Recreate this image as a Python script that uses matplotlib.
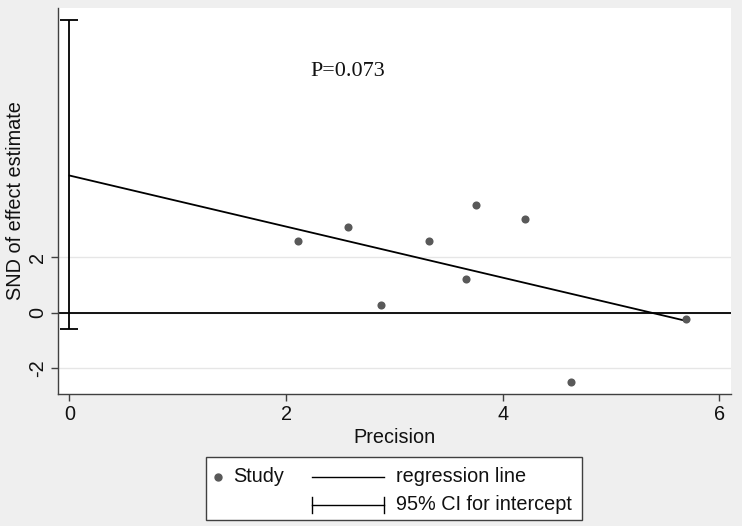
import matplotlib
matplotlib.use("Agg")
import matplotlib.pyplot as plt
from matplotlib.lines import Line2D
from matplotlib.patches import Rectangle
import numpy as np

# ---- data ----
precision = [2.11, 2.57, 2.876, 3.32, 3.66, 3.75, 4.21, 4.63, 5.69]
snd = [2.60, 3.10, 0.29, 2.58, 1.23, 3.90, 3.38, -2.50, -0.22]
intercept = 4.95
slope = -0.922
ci_low, ci_high = -0.60, 10.56
p_text = "P=0.073"
xticks = [0, 2, 4, 6]
yticks = [-2, 0, 2]

W, H = 742, 526
plt.rcParams['font.family'] = ['Liberation Sans', 'DejaVu Sans']
fig = plt.figure(figsize=(W / 100, H / 100), dpi=100)
fig.patch.set_facecolor('#efefef')

def fx(px):
    return px / W

def fy(py):
    return 1 - py / H

FS = 14.3

ax = fig.add_axes([fx(58), fy(394), fx(731) - fx(58), fy(8) - fy(394)])
ax.set_facecolor('white')
ax.set_xlim(-0.106, 6.108)
ax.set_ylim(-2.94, 11.0)

for s in ['top', 'right']:
    ax.spines[s].set_visible(False)
for s in ['left', 'bottom']:
    ax.spines[s].set_color('#404040')
    ax.spines[s].set_linewidth(1.0)

ax.set_xticks(xticks)
ax.set_yticks(yticks)
ax.set_yticklabels([str(v) for v in yticks], rotation=90, va='center')
ax.tick_params(axis='both', labelsize=FS, length=5, width=1.0, color='#404040',
               labelcolor='#111111', pad=3)
ax.yaxis.grid(True, color='#e6e6e6', linewidth=1.0)
ax.set_axisbelow(True)

ax.set_xlabel('Precision', fontsize=FS, labelpad=3, color='#111111')
ax.set_ylabel('SND of effect estimate', fontsize=FS, labelpad=2, color='#111111')

# zero line
ax.axhline(0, color='black', linewidth=1.3, zorder=2)

# regression line
xr = np.array([0, max(precision)])
ax.plot(xr, intercept + slope * xr, color='black', linewidth=1.3, zorder=3)

# CI for intercept
half = (ci_high - ci_low) / 2
ax.errorbar([0], [(ci_low + ci_high) / 2], yerr=[[half], [half]],
            fmt='none', ecolor='black', elinewidth=1.3, capsize=6.5, capthick=1.3, zorder=3)

# points
ax.scatter(precision, snd, s=34, color='#595959', zorder=4, linewidths=0)

ax.text(2.22, 8.7, p_text, fontsize=15.9, family=['Liberation Serif', 'DejaVu Serif'],
        ha='left', va='center', color='#111111')

# ---- legend (drawn manually in figure pixels) ----
fig.patches.append(Rectangle((fx(206), fy(520)), fx(582) - fx(206), fy(457) - fy(520),
                             transform=fig.transFigure, facecolor='white',
                             edgecolor='#404040', linewidth=1.0, zorder=5))
fig.add_artist(Line2D([fx(218)], [fy(477)], marker='o', markersize=5, color='#595959',
                      linestyle='none', transform=fig.transFigure, zorder=6))
fig.text(fx(233), fy(477), 'Study', fontsize=FS, va='center', ha='left', color='#111111', zorder=6)
fig.add_artist(Line2D([fx(312), fx(384)], [fy(477), fy(477)], color='black', linewidth=1.0,
                      transform=fig.transFigure, zorder=6))
fig.text(fx(396), fy(477), 'regression line', fontsize=FS, va='center', ha='left', color='#111111', zorder=6)
fig.add_artist(Line2D([fx(312), fx(384)], [fy(505), fy(505)], color='black', linewidth=1.0,
                      transform=fig.transFigure, zorder=6))
for xe in (312, 384):
    fig.add_artist(Line2D([fx(xe), fx(xe)], [fy(497), fy(513)], color='black', linewidth=1.0,
                          transform=fig.transFigure, zorder=6))
fig.text(fx(396), fy(505), '95% CI for intercept', fontsize=FS, va='center', ha='left', color='#111111', zorder=6)

fig.savefig('out.png', dpi=100, facecolor=fig.get_facecolor())
